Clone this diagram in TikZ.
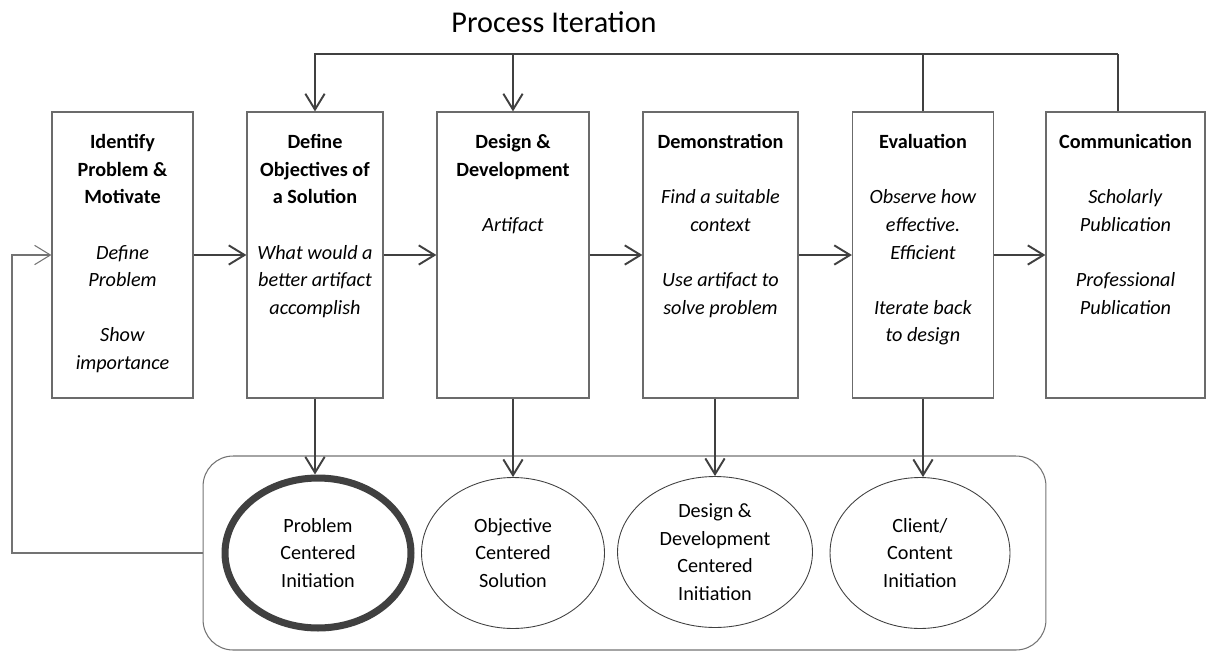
\documentclass[tikz,border=0pt]{standalone}
\usepackage{fontspec}
\setmainfont{Carlito}
\usetikzlibrary{arrows.meta, shapes.geometric}

\tikzset{
	stage/.style={draw=black!58, line width=0.7pt, minimum height=5.72cm, inner sep=0pt},
	stagetext/.style={anchor=north, align=center, inner sep=0pt, font=\fontsize{11.5}{15.7}\selectfont},
	entry/.style={draw=black!75, line width=0.5pt, ellipse, minimum height=3.02cm, inner sep=0pt, align=center, font=\fontsize{11.5}{15.7}\selectfont},
	flow/.style={draw=black!75, line width=1.1pt, -{Straight Barb[length=9pt,width=11pt]}},
	link/.style={draw=black!75, line width=0.9pt},
	feedback/.style={draw=black!55, line width=0.6pt, -{Straight Barb[length=9pt,width=11pt]}},
}

\begin{document}
\begin{tikzpicture}[x=0.02cm, y=-0.02cm]
	\useasboundingbox (0,0) rectangle (1206,652);

	\node[font=\fontsize{17.2}{20}\selectfont](title) at (554,22) {Process Iteration};

	% stages
	\node[stage, minimum width=2.82cm](b1) at (122.5,255) {};
	\node[stage, minimum width=2.72cm](b2) at (315,255) {};
	\node[stage, minimum width=3.04cm](b3) at (513,255) {};
	\node[stage, minimum width=3.10cm](b4) at (720.5,255) {};
	\node[stage, minimum width=2.82cm](b5) at (923,255) {};
	\node[stage, minimum width=3.18cm](b6) at (1125.5,255) {};

	\node[stagetext, yshift=-0.352cm](t1) at (b1.north) {\strut\textbf{Identify}\\\textbf{Problem \&}\\\textbf{Motivate}\\[15.7pt]\textit{Define}\\\textit{Problem}\\[15.7pt]\textit{Show}\\\textit{importance}};
	\node[stagetext, yshift=-0.352cm](t2) at (b2.north) {\strut\textbf{Define}\\\textbf{Objectives of}\\\textbf{a Solution}\\[15.7pt]\textit{What would a}\\\textit{better artifact}\\\textit{accomplish}};
	\node[stagetext, yshift=-0.352cm](t3) at (b3.north) {\strut\textbf{Design \&}\\\textbf{Development}\\[15.7pt]\textit{Artifact}};
	\node[stagetext, yshift=-0.352cm](t4) at (b4.north) {\strut\textbf{Demonstration}\\[15.7pt]\textit{Find a suitable}\\\textit{context}\\[15.7pt]\textit{Use artifact to}\\\textit{solve problem}};
	\node[stagetext, yshift=-0.352cm](t5) at (b5.north) {\strut\textbf{Evaluation}\\[15.7pt]\textit{Observe how}\\\textit{effective.}\\\textit{Efficient}\\[15.7pt]\textit{Iterate back}\\\textit{to design}};
	\node[stagetext, yshift=-0.352cm](t6) at (b6.north) {\strut\textbf{Communication}\\[15.7pt]\textit{Scholarly}\\\textit{Publication}\\[15.7pt]\textit{Professional}\\\textit{Publication}};

	% entry points
	\node[draw=black!55, line width=0.6pt, rounded corners=0.6cm, minimum width=16.86cm, minimum height=3.88cm](grp) at (624.5,553) {};
	\node[entry, draw=black!75, line width=4pt, minimum width=3.72cm, minimum height=3.0cm](e1) at (318,553) {Problem\\Centered\\Initiation};
	\node[entry, minimum width=3.66cm](e2) at (513,553) {Objective\\Centered\\Solution};
	\node[entry, minimum width=3.9cm](e3) at (715,552) {Design \&\\Development\\Centered\\Initiation};
	\node[entry, minimum width=3.6cm](e4) at (920,553) {Client/\\Content\\Initiation};

	\coordinate(it) at (1118,54);
	\coordinate(fb) at (12,255);

	\draw[flow](b1) -- (b2);
	\draw[flow](b2) -- (b3);
	\draw[flow](b3) -- (b4);
	\draw[flow](b4) -- (b5);
	\draw[flow](b5) -- (b6);

	\draw[link](it |- b6.north) -- (it);
	\draw[link](b5.north) -- (b5.north |- it);
	\draw[flow](it) -| (b2.north);
	\draw[flow](b3.north |- it) -- (b3.north);

	\draw[flow](b2.south) -- (b2.south |- e1.north);
	\draw[flow](b3.south) -- (e2.north);
	\draw[flow](e3.north |- b4.south) -- (e3.north);
	\draw[flow](b5.south) -- (b5.south |- e4.north);

	\draw[feedback](grp.west) -| (fb) -- (b1.west);
\end{tikzpicture}
\end{document}
